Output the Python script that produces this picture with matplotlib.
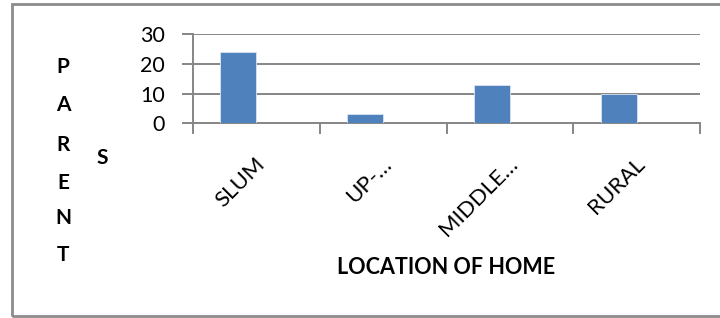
import numpy as np
import matplotlib
matplotlib.use('Agg')
from matplotlib import pyplot as plt
from matplotlib.patches import Rectangle
from matplotlib.transforms import ScaledTranslation

categories = ['SLUM', 'UP-…', 'MIDDLE…', 'RURAL']
parents = [24, 3, 13, 10]
y_ticks = [0, 10, 20, 30]

plt.rcParams['font.family'] = ['Lato', 'DejaVu Sans']

W, H = 720, 318
fig = plt.figure(figsize=(W / 100, H / 100), dpi=100)

# outer chart border (runs off the right edge like the original)
fig.patches.append(Rectangle((12 / W, 2 / H), 1.0, 312 / H, transform=fig.transFigure,
                             fill=False, edgecolor='#8c8c8c', linewidth=2))

ax = fig.add_axes([193 / W, 1 - 123.3 / H, (700 - 193) / W, (123.3 - 34) / H])
grey = '#868686'

centers = np.arange(len(categories)) + 0.5
bar_w = 0.284
ax.bar(centers - bar_w / 2, parents, width=bar_w, color='#4F81BD',
       edgecolor='#dbe5f1', linewidth=0.6, zorder=3)

ax.set_xlim(0, len(categories))
ax.set_ylim(0, 30)
ax.set_yticks(y_ticks)
ax.yaxis.grid(True, color=grey, linewidth=1.4)
ax.set_axisbelow(True)

for side in ['top', 'right']:
    ax.spines[side].set_visible(False)
for side in ['left', 'bottom']:
    ax.spines[side].set_color(grey)
    ax.spines[side].set_linewidth(1.4)

ax.tick_params(axis='y', length=8, width=1.4, color=grey, pad=12, labelsize=15.5)
ax.set_xticks(centers)
ax.set_xticklabels(categories, rotation=45, ha='right', va='top', fontsize=16)
ax.tick_params(axis='x', which='major', length=0, pad=22)
shift = ScaledTranslation(12 / 100, 0, fig.dpi_scale_trans)
for lbl in ax.get_xticklabels():
    lbl.set_transform(lbl.get_transform() + shift)
ax.set_xticks(np.arange(len(categories) + 1), minor=True)
ax.tick_params(axis='x', which='minor', length=8, width=1.4, color=grey)

# stacked y label as in the original
for letter, y in zip('PARENT', [67, 105, 145, 183, 218, 255]):
    fig.text(63 / W, 1 - y / H, letter, ha='center', va='center',
             fontsize=15, fontweight='bold')
fig.text(102 / W, 1 - 158 / H, 'S', ha='center', va='center',
         fontsize=15, fontweight='bold')

fig.text(446 / W, 1 - 268 / H, 'LOCATION OF HOME', ha='center', va='center',
         fontsize=15.5, fontweight='bold')

plt.savefig('out.png', dpi=100)
plt.close(fig)
